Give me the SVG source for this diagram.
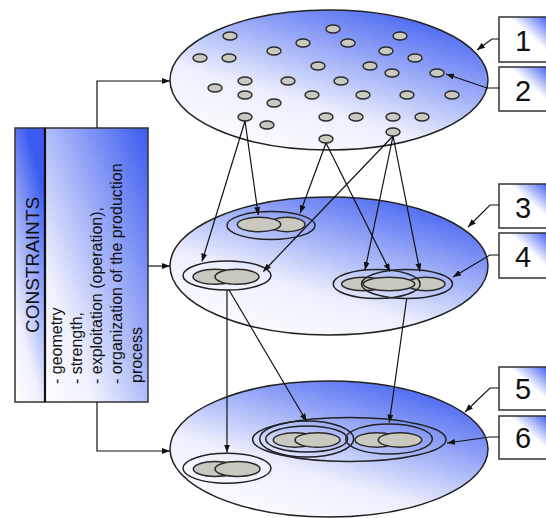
<svg xmlns="http://www.w3.org/2000/svg" width="546" height="518" viewBox="0 0 546 518">
<defs>
<linearGradient id="gE" x1="0.15" y1="1" x2="0.85" y2="0">
<stop offset="0" stop-color="#ffffff"/><stop offset="0.35" stop-color="#eceffd"/><stop offset="1" stop-color="#3a5af0"/>
</linearGradient>
<linearGradient id="gB" x1="0" y1="1" x2="1" y2="0">
<stop offset="0" stop-color="#ffffff"/><stop offset="0.6" stop-color="#ffffff"/><stop offset="1" stop-color="#3a5af0"/>
</linearGradient>
<linearGradient id="gC" x1="0" y1="1" x2="1" y2="0">
<stop offset="0" stop-color="#ffffff"/><stop offset="0.25" stop-color="#eef0fd"/><stop offset="1" stop-color="#3a5af0"/>
</linearGradient>
<linearGradient id="gS" x1="0" y1="1" x2="0.4" y2="0">
<stop offset="0" stop-color="#ffffff"/><stop offset="0.3" stop-color="#eef0fd"/><stop offset="1" stop-color="#3a5af0"/>
</linearGradient>
<marker id="ar" markerUnits="userSpaceOnUse" markerWidth="9" markerHeight="7" refX="8" refY="3" orient="auto">
<path d="M0,0 L8,3 L0,6 z" fill="#111"/>
</marker>
</defs>
<style>
.big{fill:url(#gE);stroke:#222;stroke-width:1.5}
.dot{fill:#c9c9c0;stroke:#2a2a2a;stroke-width:1.4}
.g{fill:#c9c9c0;stroke:#2a2a2a;stroke-width:1.5}
.ring{fill:none;stroke:#222;stroke-width:1.5}
.ln{fill:none;stroke:#111;stroke-width:1.2;marker-end:url(#ar)}
.box{fill:url(#gB);stroke:#333;stroke-width:1.5}
.num{font-family:"Liberation Sans",Arial,sans-serif;font-size:29px;fill:#111;text-anchor:middle}
.ct{font-family:"Liberation Sans",Arial,sans-serif;fill:#111}
</style>

<g id="level1">
<ellipse class="big" cx="329" cy="80" rx="159" ry="70"/>
<g>
<ellipse class="dot" cx="230" cy="36" rx="7" ry="4"/>
<ellipse class="dot" cx="333" cy="29" rx="7" ry="4"/>
<ellipse class="dot" cx="400" cy="36" rx="7" ry="4"/>
<ellipse class="dot" cx="303" cy="43" rx="7" ry="4"/>
<ellipse class="dot" cx="348" cy="43" rx="7" ry="4"/>
<ellipse class="dot" cx="274" cy="51" rx="7" ry="4"/>
<ellipse class="dot" cx="386" cy="51" rx="7" ry="4"/>
<ellipse class="dot" cx="200" cy="58" rx="7" ry="4"/>
<ellipse class="dot" cx="229" cy="58" rx="7" ry="4"/>
<ellipse class="dot" cx="415" cy="58" rx="7" ry="4"/>
<ellipse class="dot" cx="318" cy="66" rx="7" ry="4"/>
<ellipse class="dot" cx="370" cy="66" rx="7" ry="4"/>
<ellipse class="dot" cx="392" cy="73" rx="7" ry="4"/>
<ellipse class="dot" cx="437" cy="73" rx="7" ry="4"/>
<ellipse class="dot" cx="245" cy="81" rx="7" ry="4"/>
<ellipse class="dot" cx="288" cy="81" rx="7" ry="4"/>
<ellipse class="dot" cx="341" cy="81" rx="7" ry="4"/>
<ellipse class="dot" cx="215" cy="88" rx="7" ry="4"/>
<ellipse class="dot" cx="245" cy="95" rx="7" ry="4"/>
<ellipse class="dot" cx="312" cy="95" rx="7" ry="4"/>
<ellipse class="dot" cx="363" cy="95" rx="7" ry="4"/>
<ellipse class="dot" cx="407" cy="95" rx="7" ry="4"/>
<ellipse class="dot" cx="452" cy="95" rx="7" ry="4"/>
<ellipse class="dot" cx="274" cy="103" rx="7" ry="4"/>
<ellipse class="dot" cx="245" cy="117" rx="7" ry="4"/>
<ellipse class="dot" cx="326" cy="117" rx="7" ry="4"/>
<ellipse class="dot" cx="356" cy="117" rx="7" ry="4"/>
<ellipse class="dot" cx="393" cy="117" rx="7" ry="4"/>
<ellipse class="dot" cx="422" cy="117" rx="7" ry="4"/>
<ellipse class="dot" cx="267" cy="125" rx="7" ry="4"/>
<ellipse class="dot" cx="393" cy="132" rx="7" ry="4"/>
<ellipse class="dot" cx="326" cy="139" rx="7" ry="4"/>
</g>
</g>

<g id="level2">
<ellipse class="big" cx="329" cy="266" rx="159" ry="69"/>
<g id="groupA">
<ellipse class="ring" cx="271" cy="225.5" rx="44" ry="14"/>
<ellipse class="g" cx="287" cy="224.5" rx="18" ry="7.2"/>
<ellipse class="g" cx="259" cy="224.5" rx="21.7" ry="7.2"/>
</g>
<g id="groupB">
<ellipse class="ring" cx="227" cy="275.5" rx="44" ry="14.5"/>
<ellipse class="g" cx="215" cy="276.8" rx="22" ry="7.5"/>
<ellipse class="g" cx="237" cy="276.8" rx="22" ry="7.5"/>
</g>
<g id="groupC">
<ellipse class="g" cx="363.3" cy="284" rx="21.7" ry="6.7"/>
<ellipse class="g" cx="426" cy="284" rx="19" ry="6.7"/>
<ellipse class="g" cx="389" cy="284" rx="25.8" ry="6.7"/>
<ellipse class="ring" cx="376.7" cy="284" rx="43.5" ry="14.5"/>
<ellipse class="ring" cx="407" cy="284" rx="45.5" ry="14.5"/>
</g>
</g>

<g id="level3">
<ellipse class="big" cx="329" cy="449" rx="159" ry="68"/>
<g id="groupD">
<ellipse class="ring" cx="227" cy="468.3" rx="44" ry="15"/>
<ellipse class="g" cx="215.3" cy="469" rx="22" ry="7.5"/>
<ellipse class="g" cx="237.5" cy="469" rx="22.5" ry="7.5"/>
</g>
<g id="groupE">
<ellipse class="ring" cx="349.3" cy="439.5" rx="96.7" ry="22"/>
<ellipse class="ring" cx="306.7" cy="439" rx="47" ry="18"/>
<ellipse class="ring" cx="306.7" cy="439" rx="41" ry="13"/>
<ellipse class="g" cx="295" cy="440" rx="21.7" ry="7.2"/>
<ellipse class="g" cx="317.5" cy="440" rx="22.5" ry="7.2"/>
<ellipse class="ring" cx="389" cy="439" rx="43.3" ry="15"/>
<ellipse class="g" cx="376.7" cy="440" rx="21.7" ry="7.2"/>
<ellipse class="g" cx="400" cy="440" rx="21.7" ry="7.2"/>
</g>
</g>

<g id="constraints">
<rect x="45" y="128" width="103" height="274" fill="url(#gC)" stroke="#333" stroke-width="1.5"/>
<rect x="15" y="128" width="30" height="274" fill="url(#gS)" stroke="#333" stroke-width="1.5"/>
<line x1="45" y1="128" x2="45" y2="402" stroke="#111" stroke-width="2.2"/>
<text class="ct" font-size="19" text-anchor="middle" transform="translate(38.5,265) rotate(-90)">CONSTRAINTS</text>
<g class="ct" font-size="16">
<text transform="translate(61.5,384) rotate(-90)">- geometry</text>
<text transform="translate(81.5,384) rotate(-90)">- strength,</text>
<text transform="translate(101.5,384) rotate(-90)">- exploitation (operation),</text>
<text transform="translate(121.5,384) rotate(-90)">- organization of the production</text>
<text transform="translate(141.5,383) rotate(-90)">process</text>
</g>
</g>

<g id="label1"><rect class="box" x="499" y="17" width="50" height="45"/><text class="num" x="523" y="51">1</text></g>
<g id="label2"><rect class="box" x="499" y="67" width="50" height="44"/><text class="num" x="523" y="100.5">2</text></g>
<g id="label3"><rect class="box" x="499" y="184" width="50" height="44"/><text class="num" x="523" y="218">3</text></g>
<g id="label4"><rect class="box" x="499" y="233" width="50" height="45"/><text class="num" x="523" y="267">4</text></g>
<g id="label5"><rect class="box" x="499" y="367" width="50" height="43"/><text class="num" x="523" y="399">5</text></g>
<g id="label6"><rect class="box" x="499" y="416" width="50" height="43"/><text class="num" x="523" y="448">6</text></g>

<g id="connectors">
<polyline class="ln" points="97,128 97,81 170,81"/>
<line class="ln" x1="148" y1="266" x2="170" y2="266"/>
<polyline class="ln" points="97,402 97,451 170,451"/>

<line class="ln" x1="245" y1="121" x2="202" y2="261.5"/>
<line class="ln" x1="245" y1="121" x2="258.3" y2="215"/>
<line class="ln" x1="326" y1="143" x2="300" y2="213.3"/>
<line class="ln" x1="326" y1="143" x2="390" y2="271.5"/>
<line class="ln" x1="393" y1="136" x2="263.3" y2="271.5"/>
<line class="ln" x1="393" y1="136" x2="365" y2="270"/>
<line class="ln" x1="393" y1="136" x2="420" y2="271.5"/>

<line class="ln" x1="227" y1="290" x2="227" y2="452.5"/>
<line class="ln" x1="229" y1="290" x2="306.7" y2="421.5"/>
<line class="ln" x1="406.7" y1="298.5" x2="389.3" y2="422.5"/>

<polyline class="ln" points="499,39 492,39 477,50"/>
<polyline class="ln" points="499,88 487,88 446,74"/>
<polyline class="ln" points="499,205 490,205 468,227"/>
<polyline class="ln" points="499,255 490,255 453,277"/>
<polyline class="ln" points="499,388 490,388 465,412"/>
<polyline class="ln" points="499,437 490,437 447,443"/>
</g>
</svg>
